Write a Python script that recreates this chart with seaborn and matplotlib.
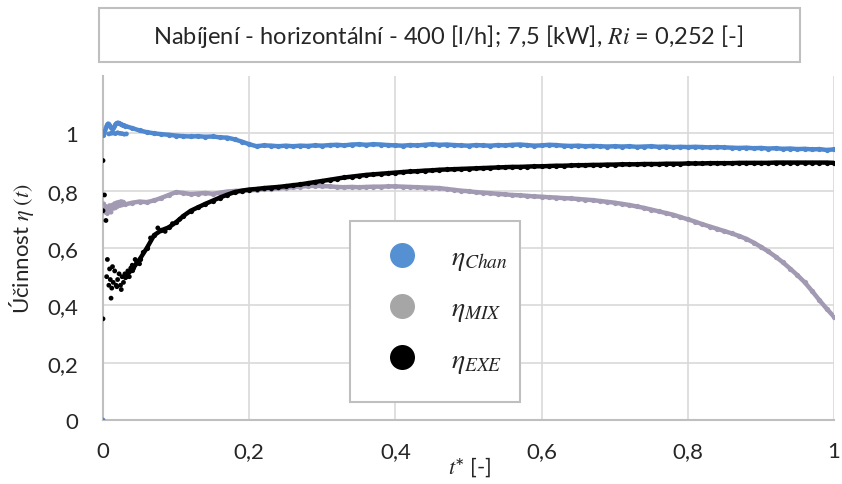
import matplotlib
matplotlib.use("Agg")
import matplotlib.pyplot as plt
from matplotlib.patches import Rectangle
from matplotlib.lines import Line2D
import seaborn as sns

sns.set_theme(style="white")
plt.rcParams["font.family"] = ["Lato", "DejaVu Sans"]
plt.rcParams["mathtext.fontset"] = "stix"

# ---- data -------------------------------------------------------------
# dimensionless time t* for the main part of each record
t_star = [
    0.03, 0.04, 0.05, 0.06, 0.07, 0.08, 0.09, 0.10, 0.11, 0.12,
    0.13, 0.14, 0.15, 0.16, 0.17, 0.18, 0.19, 0.20, 0.21, 0.22,
    0.23, 0.24, 0.25, 0.26, 0.27, 0.28, 0.29, 0.30, 0.31, 0.32,
    0.33, 0.34, 0.35, 0.36, 0.37, 0.38, 0.39, 0.40, 0.41, 0.42,
    0.43, 0.44, 0.45, 0.46, 0.47, 0.48, 0.49, 0.50, 0.51, 0.52,
    0.53, 0.54, 0.55, 0.56, 0.57, 0.58, 0.59, 0.60, 0.61, 0.62,
    0.63, 0.64, 0.65, 0.66, 0.67, 0.68, 0.69, 0.70, 0.71, 0.72,
    0.73, 0.74, 0.75, 0.76, 0.77, 0.78, 0.79, 0.80, 0.81, 0.82,
    0.83, 0.84, 0.85, 0.86, 0.87, 0.88, 0.89, 0.90, 0.91, 0.92,
    0.93, 0.94, 0.95, 0.96, 0.97, 0.98, 0.99, 1.00,
]

eta_chan = [
    1.026, 1.018, 1.010, 1.004, 1.000, 0.997, 0.995, 0.992, 0.990, 0.989,
    0.990, 0.988, 0.989, 0.986, 0.985, 0.979, 0.971, 0.962, 0.955, 0.958,
    0.957, 0.955, 0.957, 0.955, 0.957, 0.956, 0.958, 0.957, 0.959, 0.960,
    0.958, 0.961, 0.962, 0.960, 0.962, 0.961, 0.959, 0.958, 0.957, 0.959,
    0.958, 0.960, 0.962, 0.960, 0.961, 0.959, 0.958, 0.957, 0.959, 0.958,
    0.957, 0.959, 0.958, 0.960, 0.961, 0.959, 0.957, 0.958, 0.960, 0.959,
    0.957, 0.956, 0.957, 0.955, 0.956, 0.955, 0.954, 0.955, 0.954, 0.955,
    0.953, 0.954, 0.955, 0.953, 0.954, 0.952, 0.953, 0.952, 0.953, 0.952,
    0.951, 0.952, 0.951, 0.950, 0.949, 0.950, 0.948, 0.949, 0.947, 0.948,
    0.946, 0.947, 0.945, 0.946, 0.944, 0.945, 0.942, 0.944,
]

eta_mix = [
    0.752, 0.758, 0.762, 0.760, 0.766, 0.775, 0.785, 0.795, 0.792, 0.788,
    0.790, 0.792, 0.789, 0.793, 0.797, 0.799, 0.800, 0.801, 0.803, 0.805,
    0.806, 0.808, 0.810, 0.812, 0.814, 0.816, 0.817, 0.816, 0.815, 0.813,
    0.812, 0.813, 0.812, 0.813, 0.814, 0.814, 0.815, 0.815, 0.814, 0.813,
    0.812, 0.811, 0.810, 0.809, 0.806, 0.803, 0.800, 0.798, 0.795, 0.793,
    0.791, 0.789, 0.787, 0.785, 0.784, 0.782, 0.780, 0.779, 0.777, 0.776,
    0.774, 0.773, 0.771, 0.769, 0.767, 0.764, 0.761, 0.758, 0.754, 0.750,
    0.745, 0.740, 0.734, 0.728, 0.722, 0.716, 0.708, 0.700, 0.692, 0.683,
    0.675, 0.667, 0.659, 0.651, 0.642, 0.632, 0.619, 0.604, 0.588, 0.570,
    0.550, 0.528, 0.505, 0.480, 0.450, 0.418, 0.388, 0.360,
]

eta_exe = [
    0.500, 0.525, 0.560, 0.600, 0.645, 0.662, 0.672, 0.690, 0.712, 0.730,
    0.742, 0.754, 0.765, 0.776, 0.786, 0.795, 0.800, 0.804, 0.806, 0.809,
    0.811, 0.813, 0.816, 0.819, 0.822, 0.826, 0.830, 0.834, 0.838, 0.842,
    0.846, 0.849, 0.852, 0.855, 0.857, 0.859, 0.861, 0.863, 0.865, 0.867,
    0.868, 0.870, 0.871, 0.873, 0.874, 0.875, 0.876, 0.877, 0.878, 0.879,
    0.880, 0.881, 0.882, 0.883, 0.883, 0.884, 0.885, 0.885, 0.886, 0.887,
    0.887, 0.888, 0.889, 0.889, 0.890, 0.890, 0.891, 0.891, 0.892, 0.892,
    0.892, 0.893, 0.893, 0.893, 0.894, 0.894, 0.894, 0.895, 0.895, 0.895,
    0.896, 0.896, 0.896, 0.896, 0.897, 0.897, 0.897, 0.897, 0.897, 0.898,
    0.898, 0.898, 0.898, 0.898, 0.898, 0.898, 0.898, 0.897,
]

# start-up samples (scattered, t* < 0.11)
chan_t0 = [
    0.000, 0.001, 0.002, 0.003, 0.004, 0.005, 0.006, 0.007, 0.008, 0.009,
    0.010, 0.011, 0.012, 0.013, 0.014, 0.015, 0.016, 0.017, 0.018, 0.019,
    0.020, 0.021, 0.022, 0.023, 0.024, 0.025, 0.026, 0.027, 0.028, 0.029,
    0.008, 0.011, 0.014, 0.017, 0.020, 0.023, 0.026, 0.029, 0.032,
]
chan_e0 = [
    0.000, 0.992, 1.000, 1.010, 1.018, 1.025, 1.030, 1.033, 1.032, 1.028,
    1.024, 1.020, 1.017, 1.015, 1.016, 1.020, 1.025, 1.030, 1.033, 1.035,
    1.036, 1.036, 1.035, 1.034, 1.032, 1.031, 1.030, 1.028, 1.027, 1.027,
    0.998, 1.000, 1.001, 0.999, 1.002, 1.000, 0.999, 0.997, 0.998,
]

mix_t0 = [
    0.001, 0.002, 0.003, 0.004, 0.005, 0.006, 0.007, 0.008, 0.009, 0.010,
    0.011, 0.012, 0.013, 0.014, 0.015, 0.016, 0.017, 0.018, 0.019, 0.020,
    0.021, 0.022, 0.023, 0.024, 0.025, 0.026, 0.027, 0.028, 0.029,
]
mix_e0 = [
    0.754, 0.735, 0.725, 0.745, 0.730, 0.720, 0.740, 0.728, 0.748, 0.735,
    0.725, 0.742, 0.750, 0.738, 0.745, 0.755, 0.740, 0.748, 0.758, 0.745,
    0.752, 0.760, 0.748, 0.755, 0.762, 0.750, 0.756, 0.760, 0.754,
]

exe_t0 = [
    0.000, 0.002, 0.000, 0.004, 0.000, 0.006, 0.011, 0.005, 0.008, 0.010,
    0.012, 0.014, 0.016, 0.018, 0.020, 0.022, 0.024, 0.026, 0.028, 0.030,
    0.032, 0.034, 0.036, 0.038, 0.040, 0.042, 0.044, 0.046, 0.050, 0.055,
    0.065, 0.075, 0.085, 0.095, 0.105, 0.009, 0.013, 0.019, 0.025,
]
exe_e0 = [
    0.905, 0.785, 0.730, 0.696, 0.353, 0.560, 0.425, 0.500, 0.470, 0.490,
    0.460, 0.480, 0.520, 0.470, 0.490, 0.510, 0.470, 0.500, 0.480, 0.510,
    0.500, 0.520, 0.500, 0.530, 0.540, 0.530, 0.560, 0.550, 0.545, 0.585,
    0.635, 0.670, 0.658, 0.685, 0.700, 0.527, 0.535, 0.465, 0.455,
]

labels = [r"$\eta_{Chan}$", r"$\eta_{MIX}$", r"$\eta_{EXE}$"]
colors_pts = ["#4F88CF", "#A19AB2", "#000000"]
colors_key = ["#5590D3", "#A6A6A6", "#000000"]
y_ticks = [0.0, 0.2, 0.4, 0.6, 0.8, 1.0]
y_tick_labels = ["0", "0,2", "0,4", "0,6", "0,8", "1"]
x_ticks = [0.0, 0.2, 0.4, 0.6, 0.8, 1.0]
x_tick_labels = ["0", "0,2", "0,4", "0,6", "0,8", "1"]

# ---- figure -----------------------------------------------------------
W, H = 842, 485
fig = plt.figure(figsize=(W / 100, H / 100), dpi=100)
ax = fig.add_axes([103 / W, 1 - 421 / H, (834 - 103) / W, (421 - 77) / H])

grid_c = "#D9D9D9"
text_c = "#262626"

series = [
    (chan_t0, chan_e0, eta_chan),
    (mix_t0, mix_e0, eta_mix),
    (exe_t0, exe_e0, eta_exe),
]
for (t0, e0, e), c in zip(series, colors_pts):
    sns.scatterplot(x=t0, y=e0, ax=ax, color=c, s=12, edgecolor="none",
                    zorder=3, legend=False)
    sns.lineplot(x=t_star, y=e, ax=ax, color=c, linewidth=3.2,
                 estimator=None, sort=False, marker="o", markersize=3.8,
                 markeredgewidth=0, zorder=3, legend=False)

ax.set_xlim(0, 1)
ax.set_ylim(0, 1.2)
ax.set_xticks(x_ticks)
ax.set_xticklabels(x_tick_labels)
ax.set_yticks(y_ticks)
ax.set_yticklabels(y_tick_labels)
ax.tick_params(axis="both", length=0, labelsize=16, colors=text_c)
ax.tick_params(axis="y", pad=18)
ax.tick_params(axis="x", pad=15)
ax.grid(True, color=grid_c, linewidth=1.2)
ax.set_axisbelow(True)
for s in ("top", "right"):
    ax.spines[s].set_visible(False)
for s in ("left", "bottom"):
    ax.spines[s].set_color("#BFBFBF")
    ax.spines[s].set_linewidth(1.5)

ax.set_ylabel(r"Účinnost $\eta\ (t)$", fontsize=16, color=text_c)
ax.yaxis.label.set_va("center")
ax.yaxis.set_label_coords((22 - 103) / 731, 0.5)
ax.set_xlabel(r"$t$* [-]", fontsize=16, color=text_c)
ax.xaxis.label.set_va("center")
ax.xaxis.set_label_coords((470 - 103) / 731, -(467 - 421) / 344)

# legend frame and entries
frame = Rectangle(((350 - 103) / 731, (421 - 403) / 344), 170 / 731, 181 / 344,
                  transform=ax.transAxes, facecolor="white",
                  edgecolor="#BFBFBF", linewidth=1.5, zorder=4)
ax.add_patch(frame)
handles = [Line2D([], [], linestyle="none", marker="o", markersize=18,
                  markerfacecolor=c, markeredgewidth=0) for c in colors_key]
leg = ax.legend(handles, labels, loc="center",
                bbox_to_anchor=((446 - 103) / 731, (421 - 310) / 344),
                frameon=False, fontsize=20, labelspacing=0.8,
                handletextpad=1.1, handlelength=1.3)
leg.set_zorder(5)
for txt in leg.get_texts():
    txt.set_color(text_c)

# title box
fig.patches.append(Rectangle((99 / W, 1 - 63 / H), (800 - 99) / W, 54 / H,
                             transform=fig.transFigure, facecolor="white",
                             edgecolor="#BFBFBF", linewidth=1.5))
fig.text(448 / W, 1 - 36 / H,
         r"Nabíjení - horizontální - 400 [l/h]; 7,5 [kW], $Ri$ = 0,252 [-]",
         ha="center", va="center", fontsize=17, color=text_c)

fig.savefig("out.png", dpi=100, facecolor="white")
